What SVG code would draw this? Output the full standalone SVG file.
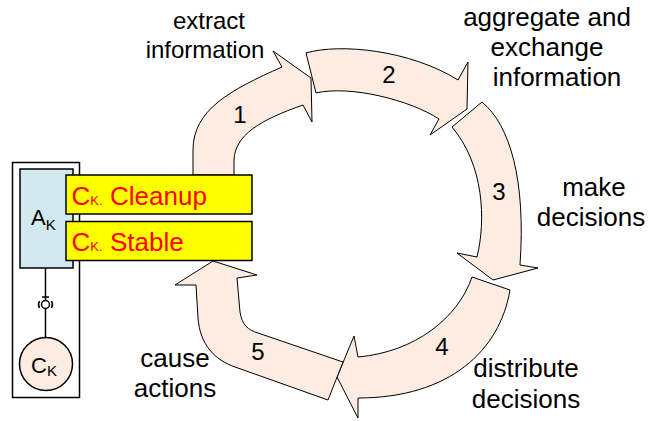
<svg xmlns="http://www.w3.org/2000/svg" width="652" height="421" viewBox="0 0 652 421">
  <style>
    text { font-family: "Liberation Sans", Arial, sans-serif; fill: #000; }
    .lbl { font-size: 26px; text-anchor: middle; }
    .lbl-s { font-size: 24px; text-anchor: middle; }
    .num { font-size: 24px; text-anchor: middle; }
    .arrow { fill: #FCECE2; stroke: #000; stroke-width: 1; stroke-linejoin: miter; }
    .frame { fill: #fff; stroke: #000; stroke-width: 1.5; }
    .agent { fill: #D3E9F0; stroke: #000; stroke-width: 1.5; }
    .iface { fill: #FFFF00; stroke: #000; stroke-width: 1.5; }
    .red { fill: #FF0000; font-size: 26px; }
    .wire { fill: none; stroke: #000; stroke-width: 1.5; }
  </style>

  <!-- cycle arrows -->
  <g id="connectors">
    <path id="arrow1" class="arrow" d="M193,175 L193,150 C193,110 230,90 282,67 L273,51 L311,78 L312,122 L303,105 C260,120 235,135 234,160 L234,175 Z"/>
    <path id="arrow2" class="arrow" d="M306,53 C340,43 410,50 458,80 L468,62 L467,109 L430,135 L439,119 C410,100 350,85 316,93 Z"/>
    <path id="arrow3" class="arrow" d="M452,127 L482,102 C510,125 526,180 520,265 L538,268 L493,280 L457,253 L477,257 C486,220 484,165 452,127 Z"/>
    <path id="arrow4" class="arrow" d="M472,277 L510,290 C500,350 450,398 358,398 L358,418 L337,377 L354,336 L358,357 C415,352 458,318 472,277 Z"/>
    <path id="arrow5" class="arrow" d="M343,362 L328,400 L235,367 C215,360 200,345 198,318 L196,285 L175,285 L213,261 L257,275 L237,278 L240,312 C242,325 248,330 258,333 Z"/>
    <text class="num" x="240" y="123">1</text>
    <text class="num" x="389" y="83">2</text>
    <text class="num" x="499" y="200">3</text>
    <text class="num" x="442" y="355">4</text>
    <text class="num" x="258" y="360">5</text>
  </g>

  <!-- phase labels -->
  <g id="label-extract">
    <text class="lbl-s" x="209" y="29">extract</text>
    <text class="lbl-s" x="205" y="58">information</text>
  </g>
  <g id="label-aggregate">
    <text class="lbl" x="547" y="26">aggregate and</text>
    <text class="lbl" x="547" y="56">exchange</text>
    <text class="lbl" x="557" y="86">information</text>
  </g>
  <g id="label-decide">
    <text class="lbl" x="594" y="196">make</text>
    <text class="lbl" x="591" y="226">decisions</text>
  </g>
  <g id="label-distribute">
    <text class="lbl" x="526" y="377">distribute</text>
    <text class="lbl" x="526" y="408">decisions</text>
  </g>
  <g id="label-act">
    <text class="lbl" x="175" y="367">cause</text>
    <text class="lbl" x="175" y="397">actions</text>
  </g>

  <!-- component K: agent, interfaces and controlled element -->
  <g id="component-k">
    <rect class="frame" x="12.5" y="162.5" width="67" height="235"/>
    <g id="agent-ak">
      <rect class="agent" x="20" y="169" width="53" height="99"/>
      <text x="31" y="225" font-size="22">A<tspan font-size="15" dy="5">K</tspan></text>
    </g>
    <g id="link">
      <line class="wire" x1="45.5" y1="268" x2="45.5" y2="300.5"/>
      <circle class="wire" cx="45.5" cy="304.5" r="4"/>
      <line class="wire" x1="42" y1="297" x2="49" y2="297"/>
      <path class="wire" d="M39.5,301 Q37.5,304.5 39.5,308"/>
      <path class="wire" d="M51.5,301 Q53.5,304.5 51.5,308"/>
      <line class="wire" x1="45.5" y1="308.5" x2="45.5" y2="338"/>
    </g>
    <g id="element-ck">
      <circle cx="46" cy="364" r="26.5" fill="#FCECE2" stroke="#000" stroke-width="1.5"/>
      <text x="31" y="372.5" font-size="22">C<tspan font-size="15" dy="3.5">K</tspan></text>
    </g>
    <g id="iface-cleanup">
      <rect class="iface" x="66" y="175" width="186" height="39"/>
      <text class="red" x="71.5" y="205">C<tspan font-size="13">K.</tspan><tspan x="110">Cleanup</tspan></text>
    </g>
    <g id="iface-stable">
      <rect class="iface" x="66" y="221.5" width="186" height="39"/>
      <text class="red" x="71.5" y="251">C<tspan font-size="13">K.</tspan><tspan x="110">Stable</tspan></text>
    </g>
  </g>
</svg>
